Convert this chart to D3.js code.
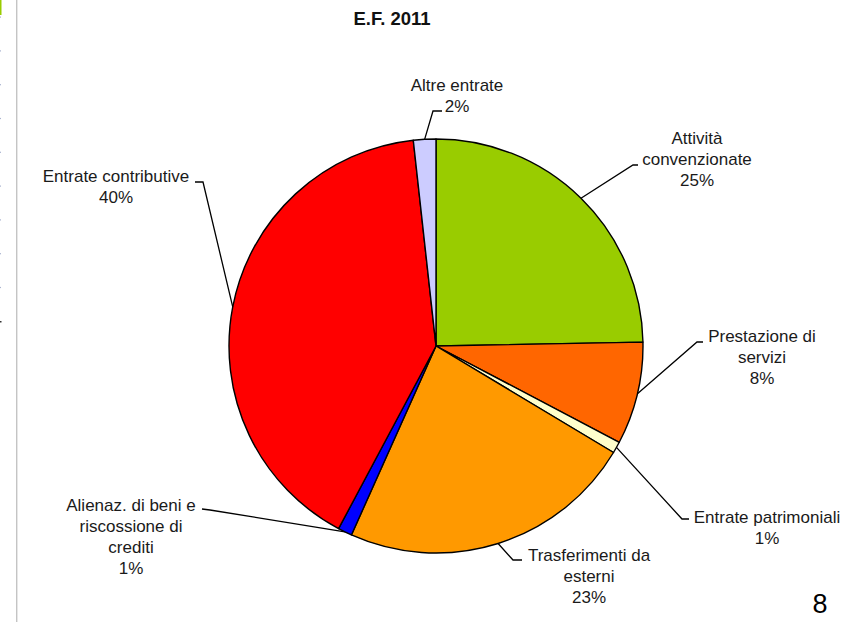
<!DOCTYPE html>
<html><head><meta charset="utf-8">
<script src="https://cdn.jsdelivr.net/npm/d3@7"></script>
<style>html,body{margin:0;padding:0;background:#fff;}svg{display:block;}</style>
</head><body>
<svg id="c" width="845" height="622"></svg>
<script>
const title = "E.F. 2011";
const categories = [
  ["Attività", "convenzionate"],
  ["Prestazione di", "servizi"],
  ["Entrate patrimoniali"],
  ["Trasferimenti da", "esterni"],
  ["Alienaz. di beni e", "riscossione di", "crediti"],
  ["Entrate contributive"],
  ["Altre entrate"]
];
const values = [24.7, 8.0, 0.9, 23.1, 1.1, 40.45, 1.75];
const colors = ["#99CC00", "#FF6600", "#FFFFCC", "#FF9900", "#0000FF", "#FF0000", "#CCCCFF"];

// label layout: text centre x, first baseline y, elbow point, line end
const labelLayout = [
  {x: 697, y: 144, elbow: [633, 165], end: [638, 165]},
  {x: 762, y: 342, elbow: [697, 342], end: [703, 342]},
  {x: 767, y: 523, elbow: [682, 519], end: [689, 519]},
  {x: 589, y: 561, elbow: [513, 560], end: [522, 560]},
  {x: 131, y: 511, elbow: [210, 510], end: [202, 509]},
  {x: 116, y: 182, elbow: [203, 182], end: [195, 182]},
  {x: 457, y: 91, elbow: [433, 111], end: [442, 111]}
];

const svg = d3.select("#c");
const font = "'Liberation Sans', Arial, sans-serif";

// slide decorations on the left edge
svg.append("rect").attr("x", 0).attr("y", 0).attr("width", 1.5).attr("height", 15).attr("fill", "#99CC00");
svg.append("rect").attr("x", 16).attr("y", 0).attr("width", 1.4).attr("height", 622).attr("fill", "#c4c4c4");
d3.range(9).forEach(i => {
  svg.append("rect").attr("x", 0).attr("y", 16.5 + i * 33.8).attr("width", 1).attr("height", 1.2).attr("fill", "#aab4d0");
});
svg.append("rect").attr("x", 0).attr("y", 321).attr("width", 1.5).attr("height", 1.5).attr("fill", "#333");

// title
svg.append("text").attr("x", 392).attr("y", 25).attr("text-anchor", "middle")
  .attr("font-family", font).attr("font-weight", "bold").attr("font-size", 18.5)
  .attr("fill", "#111").text(title);

const cx = 436, cy = 346, R = 207;
const pie = d3.pie().sort(null).value(d => d);
const arcs = pie(values);
const arc = d3.arc().innerRadius(0).outerRadius(R);

const g = svg.append("g").attr("transform", `translate(${cx},${cy})`);
g.selectAll("path").data(arcs).join("path")
  .attr("d", arc)
  .attr("fill", (d, i) => colors[i])
  .attr("stroke", "#000").attr("stroke-width", 1.4).attr("stroke-linejoin", "round");

// leader lines
arcs.forEach((a, i) => {
  const m = (a.startAngle + a.endAngle) / 2;
  const sx = cx + R * Math.sin(m), sy = cy - R * Math.cos(m);
  const L = labelLayout[i];
  svg.append("polyline")
    .attr("points", [[sx, sy], L.elbow, L.end].map(p => p.join(",")).join(" "))
    .attr("fill", "none").attr("stroke", "#000").attr("stroke-width", 1.3);
});

// labels
arcs.forEach((a, i) => {
  const L = labelLayout[i];
  const lines = categories[i].concat([Math.round(values[i]) + "%"]);
  const t = svg.append("text").attr("text-anchor", "middle")
    .attr("font-family", font).attr("font-size", 17).attr("fill", "#1a1a1a");
  lines.forEach((s, k) => {
    t.append("tspan").attr("x", L.x).attr("y", L.y + k * 21).text(s);
  });
});

// slide number
svg.append("text").attr("x", 820).attr("y", 613).attr("text-anchor", "middle")
  .attr("font-family", font).attr("font-size", 27).attr("fill", "#000").text("8");
</script>
</body></html>
